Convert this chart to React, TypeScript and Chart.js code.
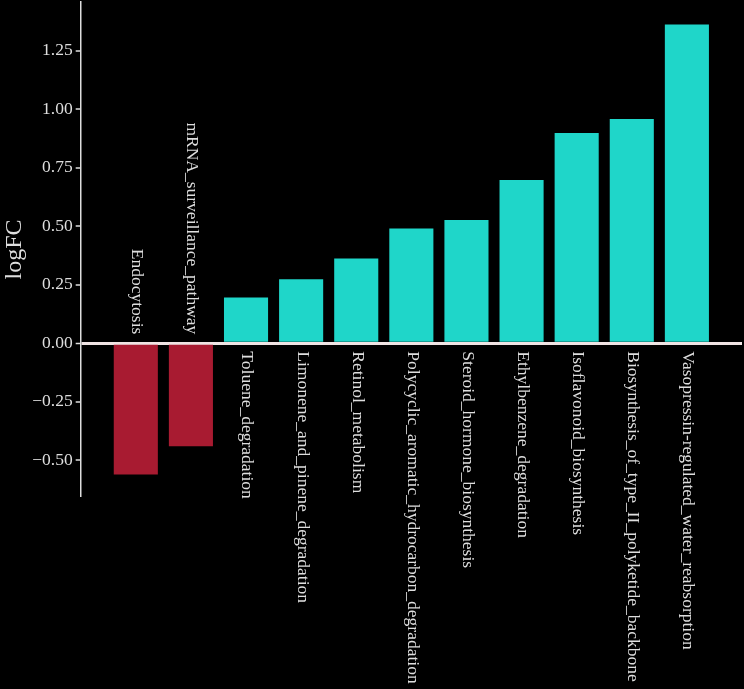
import React, { useEffect, useRef } from "react";
import { Chart, registerables } from "chart.js";

Chart.register(...registerables);

const categories = [
  "Endocytosis",
  "mRNA_surveillance_pathway",
  "Toluene_degradation",
  "Limonene_and_pinene_degradation",
  "Retinol_metabolism",
  "Polycyclic_aromatic_hydrocarbon_degradation",
  "Steroid_hormone_biosynthesis",
  "Ethylbenzene_degradation",
  "Isoflavonoid_biosynthesis",
  "Biosynthesis_of_type_II_polyketide_backbone",
  "Vasopressin-regulated_water_reabsorption",
];
const logFC = [-0.561, -0.44, 0.196, 0.274, 0.362, 0.491, 0.527, 0.698, 0.899, 0.959, 1.363];
const yTicks = [-0.5, -0.25, 0, 0.25, 0.5, 0.75, 1.0, 1.25];

const UP = "#1fd6c9";
const DOWN = "#a81b31";
const TEXT = "#dedede";
const FONT = "'Liberation Serif', 'DejaVu Serif', serif";

const labelPlugin = {
  id: "barLabels",
  afterDatasetsDraw(chart: any) {
    const ctx = chart.ctx;
    const meta = chart.getDatasetMeta(0);
    const y0 = chart.scales.y.getPixelForValue(0);
    ctx.save();
    ctx.fillStyle = TEXT;
    ctx.font = `17.5px ${FONT}`;
    ctx.textBaseline = "middle";
    meta.data.forEach((el: any, i: number) => {
      const v = logFC[i];
      ctx.save();
      if (v >= 0) {
        ctx.translate(el.x + 1, y0 + 8);
        ctx.rotate(Math.PI / 2);
        ctx.textAlign = "left";
      } else {
        ctx.translate(el.x + 1, y0 - 9);
        ctx.rotate(Math.PI / 2);
        ctx.textAlign = "right";
      }
      ctx.fillText(categories[i], 0, 0);
      ctx.restore();
    });
    ctx.restore();
  },
};

export default function App() {
  const ref = useRef<HTMLCanvasElement | null>(null);
  useEffect(() => {
    if (!ref.current) return;
    const chart = new Chart(ref.current, {
      type: "bar",
      data: {
        datasets: [
          {
            data: logFC.map((v, i) => ({ x: i, y: v })),
            backgroundColor: logFC.map((v) => (v >= 0 ? UP : DOWN)),
            borderWidth: 0,
            barPercentage: 0.8,
            categoryPercentage: 1,
          },
        ],
      },
      options: {
        animation: false,
        responsive: true,
        maintainAspectRatio: false,
        layout: { padding: { top: 2, bottom: 192, right: 2, left: 0 } },
        plugins: { legend: { display: false }, tooltip: { enabled: false } },
        scales: {
          x: {
            type: "linear",
            min: -1,
            max: 11,
            offset: false,
            display: false,
            grid: { offset: false },
          },
          y: {
            min: -0.657,
            max: 1.459,
            afterBuildTicks: (scale: any) => {
              scale.ticks = yTicks.map((v) => ({ value: v }));
            },
            afterFit: (scale: any) => {
              scale.width = 80.7;
              scale.paddingTop = 0;
              scale.paddingBottom = 0;
            },
            border: { display: true, color: TEXT, width: 1.5 },
            grid: {
              drawOnChartArea: true,
              drawTicks: true,
              tickLength: 5,
              tickColor: TEXT,
              tickWidth: 1.5,
              color: (c: any) => (c.tick && c.tick.value === 0 ? "#f0e4e4" : "rgba(0,0,0,0)"),
              lineWidth: (c: any) => (c.tick && c.tick.value === 0 ? 3 : 0),
            },
            ticks: {
              color: TEXT,
              padding: 3,
              font: { family: FONT, size: 17.5 },
              callback: (v: any) => {
                const n = Number(v);
                const s = Math.abs(n).toFixed(2);
                return n < 0 ? "\u2212" + s : s;
              },
            },
            title: {
              display: true,
              text: "logFC",
              color: TEXT,
              font: { family: FONT, size: 24 },
              padding: { top: 0, bottom: 0 },
            },
          },
        },
      },
      plugins: [labelPlugin],
    });
    return () => chart.destroy();
  }, []);
  return (
    <div
      style={{
        position: "fixed",
        left: 0,
        top: 0,
        width: 744,
        height: 689,
        background: "#000",
      }}
    >
      <canvas ref={ref} />
    </div>
  );
}
